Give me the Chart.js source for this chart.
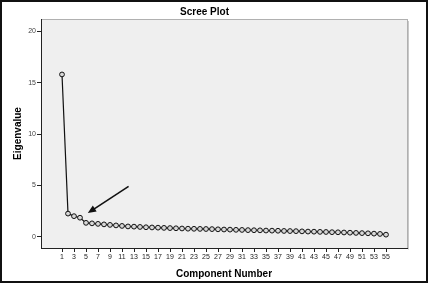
<!DOCTYPE html>
<html>
<head>
<meta charset="utf-8">
<script src="https://cdn.jsdelivr.net/npm/chart.js@4/dist/chart.umd.min.js"></script>
<style>
  html, body { margin: 0; padding: 0; background: #fff; }
  #wrap { width: 428px; height: 283px; }
</style>
</head>
<body>
<div id="wrap"><canvas id="scree" width="428" height="283"></canvas></div>
<script>
// data
const components = [];
for (let i = 1; i <= 55; i++) components.push(i);
const eigenvalues = [
  15.8, 2.25, 2.0, 1.85, 1.35, 1.3, 1.25, 1.2, 1.15, 1.1,
  1.05, 1.0, 0.98, 0.95, 0.92, 0.9, 0.88, 0.86, 0.84, 0.82,
  0.8, 0.78, 0.77, 0.76, 0.75, 0.74, 0.72, 0.7, 0.69, 0.67,
  0.66, 0.64, 0.63, 0.62, 0.6, 0.59, 0.58, 0.56, 0.55, 0.54,
  0.52, 0.5, 0.49, 0.47, 0.46, 0.44, 0.43, 0.41, 0.39, 0.37,
  0.35, 0.33, 0.3, 0.27, 0.2
];
const xTickValues = components.filter(c => c % 2 === 1);
const yTickValues = [0, 5, 10, 15, 20];
// arrow annotation, in data units
const arrowFrom = [12.1, 4.9];
const arrowTo = [5.3, 2.3];

const frame = {
  id: 'frame',
  beforeDraw(chart) {
    const ctx = chart.ctx;
    const a = chart.chartArea;
    ctx.save();
    ctx.fillStyle = '#efefef';
    ctx.fillRect(a.left, a.top, a.right - a.left, a.bottom - a.top);
    ctx.strokeStyle = '#b0b0b0';
    ctx.lineWidth = 1;
    ctx.strokeRect(a.left + 0.5, a.top + 0.5, a.right - a.left, a.bottom - a.top);
    // shadow on right edge
    ctx.strokeStyle = '#c8c8c8';
    ctx.beginPath();
    ctx.moveTo(a.right + 1.5, a.top + 2);
    ctx.lineTo(a.right + 1.5, a.bottom + 1.5);
    ctx.stroke();
    ctx.restore();
  },
  afterDraw(chart) {
    const ctx = chart.ctx;
    const xs = chart.scales.x, ys = chart.scales.y;
    ctx.save();
    // arrow
    const x1 = xs.getPixelForValue(arrowFrom[0]), y1 = ys.getPixelForValue(arrowFrom[1]);
    const x2 = xs.getPixelForValue(arrowTo[0]), y2 = ys.getPixelForValue(arrowTo[1]);
    const ang = Math.atan2(y2 - y1, x2 - x1);
    const len = 9;
    ctx.strokeStyle = '#111';
    ctx.fillStyle = '#111';
    ctx.lineWidth = 1.6;
    ctx.beginPath();
    ctx.moveTo(x1, y1);
    ctx.lineTo(x2 - Math.cos(ang) * 5, y2 - Math.sin(ang) * 5);
    ctx.stroke();
    ctx.beginPath();
    ctx.moveTo(x2, y2);
    ctx.lineTo(x2 - len * Math.cos(ang - 0.4), y2 - len * Math.sin(ang - 0.4));
    ctx.lineTo(x2 - len * Math.cos(ang + 0.4), y2 - len * Math.sin(ang + 0.4));
    ctx.closePath();
    ctx.fill();
    // outer black frame
    ctx.strokeStyle = '#111';
    ctx.lineWidth = 2;
    ctx.strokeRect(1, 1, chart.width - 2, chart.height - 2);
    ctx.restore();
  }
};

new Chart(document.getElementById('scree'), {
  type: 'line',
  data: {
    labels: components,
    datasets: [{
      label: 'Eigenvalue',
      data: components.map((c, i) => ({ x: c, y: eigenvalues[i] })),
      borderColor: '#111',
      borderWidth: 1.2,
      pointRadius: 2.4,
      pointBorderWidth: 1,
      pointBackgroundColor: '#d8d8d8',
      pointBorderColor: '#111',
      tension: 0
    }]
  },
  options: {
    responsive: false,
    animation: false,
    layout: { padding: { left: 2, right: 21, top: 0, bottom: 3 } },
    plugins: {
      legend: { display: false },
      tooltip: { enabled: false },
      title: {
        display: true,
        text: 'Scree Plot',
        color: '#000',
        font: { family: 'Liberation Sans, Arial, sans-serif', size: 10, weight: 'bold' },
        padding: { top: 6, bottom: 1 }
      }
    },
    scales: {
      x: {
        type: 'linear',
        min: -2.5,
        max: 58.5,
        afterBuildTicks: (scale) => { scale.ticks = xTickValues.map(v => ({ value: v })); },
        afterFit: (scale) => { scale.height = 32; },
        ticks: {
          autoSkip: false,
          maxRotation: 0,
          padding: 1,
          color: '#222',
          font: { family: 'Liberation Sans, Arial, sans-serif', size: 7 }
        },
        grid: { drawOnChartArea: false, drawTicks: true, tickLength: 4, color: '#222' },
        border: { color: '#222', width: 1 },
        title: {
          display: true,
          text: 'Component Number',
          color: '#000',
          padding: { top: 2, bottom: 0 },
          font: { family: 'Liberation Sans, Arial, sans-serif', size: 10, weight: 'bold' }
        }
      },
      y: {
        min: -1.1,
        max: 21.2,
        afterBuildTicks: (scale) => { scale.ticks = yTickValues.map(v => ({ value: v })); },
        afterFit: (scale) => { scale.width = 39; },
        ticks: {
          padding: 1,
          color: '#444',
          font: { family: 'Liberation Sans, Arial, sans-serif', size: 7 }
        },
        grid: { drawOnChartArea: false, drawTicks: true, tickLength: 4, color: '#222' },
        border: { color: '#222', width: 1 },
        title: {
          display: true,
          text: 'Eigenvalue',
          color: '#000',
          padding: { top: 10, bottom: 0 },
          font: { family: 'Liberation Sans, Arial, sans-serif', size: 10, weight: 'bold' }
        }
      }
    }
  },
  plugins: [frame]
});
</script>
</body>
</html>
